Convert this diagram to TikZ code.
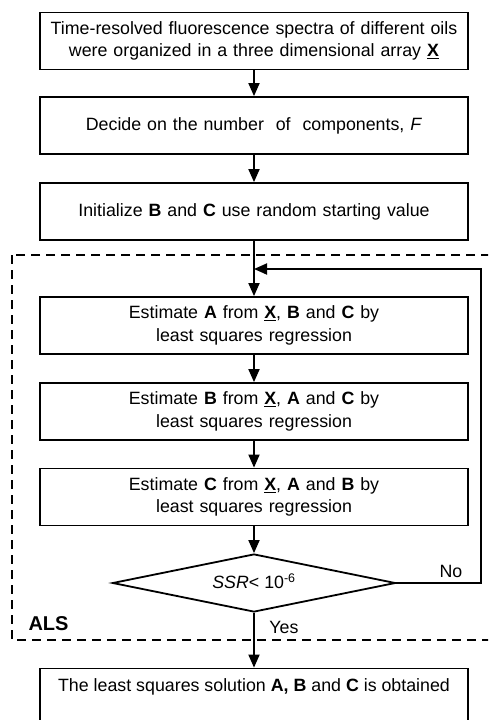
\documentclass[tikz,border=0pt]{standalone}
\usepackage{fontspec}
\setmainfont{Liberation Sans}
\usetikzlibrary{shapes.geometric,arrows.meta}
\begin{document}
\begin{tikzpicture}[x=1pt,y=-1pt,
  every node/.style={font=\fontsize{17.8}{22.5}\selectfont},
  stepbox/.style={draw,line width=1.8pt,minimum width=428pt,minimum height=57pt,inner sep=0pt,align=center,text width=420pt},
  decbox/.style={draw,line width=1.8pt,shape=diamond,minimum width=283pt,minimum height=58pt,inner sep=0pt,aspect=4.88},
  flow/.style={line width=1.8pt,-{Triangle[length=13pt,width=11pt]}},
  alsbox/.style={line width=1.8pt,dash pattern=on 9pt off 6pt}]
\useasboundingbox (0,0) rectangle (488,720);
\begin{scope}
\clip (0,0) rectangle (488,720);
\node[stepbox] (b1) at (254,41) {Time-resolved fluorescence spectra of different oils\\were organized in a three dimensional array \underline{\textbf{X}}};
\node[stepbox] (b2) at (254,125.5) {Decide on the number\ \ of\ \ components, \textit{F}};
\node[stepbox] (b3) at (254,211.5) {Initialize \textbf{B} and \textbf{C} use random starting value};
\node[stepbox] (b4) at (254,325.5) {Estimate \textbf{A} from \underline{\textbf{X}}, \textbf{B} and \textbf{C} by\\least squares regression};
\node[stepbox] (b5) at (254,411.5) {Estimate \textbf{B} from \underline{\textbf{X}}, \textbf{A} and \textbf{C} by\\least squares regression};
\node[stepbox] (b6) at (254,497) {Estimate \textbf{C} from \underline{\textbf{X}}, \textbf{A} and \textbf{B} by\\least squares regression};
\node[decbox] (d) at (254,583) {};
\node (dt) at (254,581) {\textit{SSR}< 10\textsuperscript{-6}};
\node[stepbox] (b7) at (254,697) {};
\node (b7t) at (254,687) {The least squares solution \textbf{A, B} and \textbf{C} is obtained};
\draw[alsbox] (12,255) rectangle (496,640);
\node[anchor=west,font=\fontsize{20}{22}\selectfont\bfseries] (als) at (25,624) {ALS};
\node (yes) at (284,627) {Yes};
\node (no) at (451,571) {No};
\coordinate (fb) at (254,269);
\coordinate (fr) at (481,583);
\draw[flow] (b1) -- (b2);
\draw[flow] (b2) -- (b3);
\draw[flow] (b3) -- (b4);
\draw[flow] (b4) -- (b5);
\draw[flow] (b5) -- (b6);
\draw[flow] (b6) -- (d);
\draw[flow] (d) -- (b7);
\draw[flow] (d.east) -- (fr) |- (fb);
\end{scope}
\end{tikzpicture}
\end{document}
